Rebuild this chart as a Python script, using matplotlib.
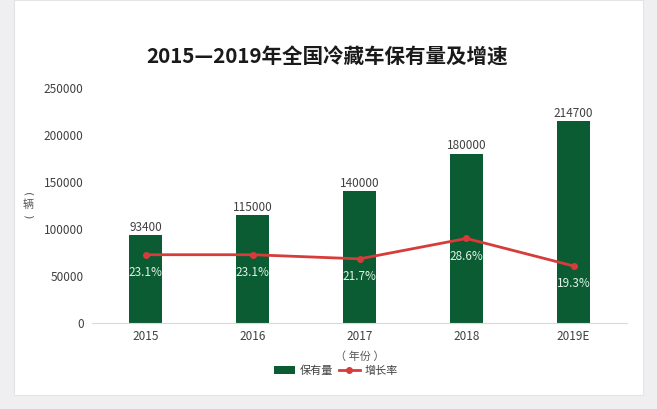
import matplotlib
matplotlib.use("Agg")
import matplotlib.pyplot as plt

plt.rcParams['font.family'] = ['Noto Sans CJK SC', 'DejaVu Sans']

years = ['2015', '2016', '2017', '2018', '2019E']
stock = [93400, 115000, 140000, 180000, 214700]
growth = [23.1, 23.1, 21.7, 28.6, 19.3]
yticks = [0, 50000, 100000, 150000, 200000, 250000]

W, H = 657, 409
fig = plt.figure(figsize=(W/100, H/100), dpi=100)
fig.patch.set_facecolor('#efeff1')
# white card
card = plt.Rectangle((14/W, 14/H), (643-14)/W, (409-14)/H, transform=fig.transFigure,
                     facecolor='white', edgecolor='#e4e4e4', lw=0.8, zorder=-10)
fig.patches.append(card)

ax = fig.add_axes([92/W, (H-323)/H, (627-92)/W, (323-88)/H])
ax.set_facecolor('none')
x = list(range(len(years)))
green = '#0b5c33'
bars = ax.bar(x, stock, width=0.3, color=green, zorder=2)
ax.set_xlim(-0.5, 4.5)
ax.set_ylim(0, 250000)
ax.set_yticks(yticks)
ax.set_yticklabels([str(v) for v in yticks], fontsize=8.5, color='#404040')
ax.set_xticks(x)
ax.set_xticklabels(years, fontsize=8.5, color='#404040')
for s in ['top', 'right', 'left']:
    ax.spines[s].set_visible(False)
ax.spines['bottom'].set_color('#d9d9d9')
ax.tick_params(axis='both', length=0, pad=6)
ax.tick_params(axis='x', pad=5)
for xi, v in zip(x, stock):
    ax.annotate(str(v), (xi, v), xytext=(0, 1), textcoords='offset points',
                ha='center', va='bottom', fontsize=8.5, color='#404040')
# vertical unit label (辆), stacked
fig.text(28/W, (H-194)/H, '(', ha='center', va='center', fontsize=8,
         color='#595959', rotation=-90, family='DejaVu Sans')
fig.text(28/W, (H-205)/H, '辆', ha='center', va='center', fontsize=8,
         color='#595959')
fig.text(28/W, (H-216)/H, ')', ha='center', va='center', fontsize=8,
         color='#595959', rotation=-90, family='DejaVu Sans')
ax.set_xlabel('（ 年份 ）', fontsize=8, color='#595959', labelpad=6)

ax2 = ax.twinx()
ax2.set_ylim(0, 79.5)
ax2.axis('off')
red = '#d63c3a'
ln, = ax2.plot(x, growth, color=red, lw=2, marker='o', ms=4, zorder=3)
for xi, g in zip(x, growth):
    ax2.annotate(f'{g}%', (xi, g), xytext=(0, -8), textcoords='offset points',
                 ha='center', va='top', fontsize=8.5, color='#dff2e6')

fig.legend([bars, ln], ['保有量', '增长率'], loc='center', bbox_to_anchor=(336/W, (H-371)/H),
           ncol=2, frameon=False, fontsize=8, handlelength=1.9, columnspacing=0.5,
           handletextpad=0.4, labelcolor='#404040')

fig.text(327/W, (H-57)/H, '2015—2019年全国冷藏车保有量及增速', ha='center', va='center',
         fontsize=14.8, fontweight='bold', color='#1a1a1a')

fig.savefig('out.png', dpi=100, facecolor=fig.get_facecolor())
